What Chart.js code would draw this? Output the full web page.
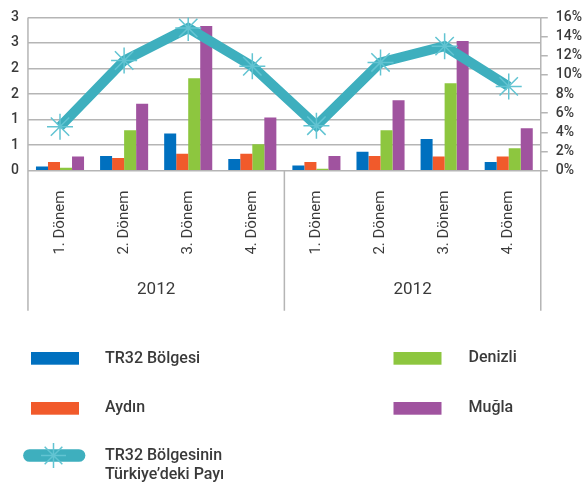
<!DOCTYPE html>
<html>
<head>
<meta charset="utf-8">
<script src="https://cdn.jsdelivr.net/npm/chart.js@4"></script>
<style>
  html, body { margin:0; padding:0; background:#fff; }
  #wrap { position:relative; width:585px; height:489px; }
</style>
</head>
<body>
<div id="wrap"><canvas id="chart" width="585" height="489"></canvas></div>
<script>
// ========== Data ==========
const periods = ['1. Dönem','2. Dönem','3. Dönem','4. Dönem','1. Dönem','2. Dönem','3. Dönem','4. Dönem'];
const years = ['2012','2012'];
const tr32 = [0.08, 0.29, 0.73, 0.23, 0.10, 0.37, 0.62, 0.17];
const aydin = [0.17, 0.25, 0.33, 0.33, 0.17, 0.29, 0.28, 0.28];
const denizli = [0.06, 0.79, 1.81, 0.52, 0.04, 0.79, 1.71, 0.44];
const mugla = [0.28, 1.31, 2.83, 1.04, 0.29, 1.38, 2.54, 0.83];
const share = [4.6, 11.5, 14.9, 10.9, 4.7, 11.3, 13.0, 8.8];   // % of Turkey

const GRID = '#b5b5b5';
const TEXT = '#3a3a3a';

// vertical frame lines running down through the category axes
const frameLines = {
  id:'frameLines',
  afterDraw(chart){
    const {ctx, chartArea} = chart;
    const x2 = chart.scales.x2;
    const end = chartArea.bottom + 140;
    const mid = (x2.getPixelForTick(0) + x2.getPixelForTick(1)) / 2;
    ctx.save();
    ctx.strokeStyle = GRID; ctx.lineWidth = 1.5;
    ctx.beginPath();
    ctx.moveTo(chartArea.left, chartArea.top); ctx.lineTo(chartArea.left, end);
    ctx.moveTo(chartArea.right, chartArea.top); ctx.lineTo(chartArea.right, end);
    ctx.moveTo(mid, chartArea.bottom); ctx.lineTo(mid, end);
    ctx.stroke();
    ctx.restore();
  }
};

// legend in two columns under the chart
const legendBlock = {
  id:'legendBlock',
  afterDraw(chart){
    const ctx = chart.ctx;
    const ds = chart.data.datasets;
    const slots = [
      {i:0, sx:31, sy:352, tx:105, ty:359},
      {i:1, sx:31, sy:402, tx:105, ty:408},
      {i:2, sx:393.5, sy:352, tx:468.5, ty:358},
      {i:3, sx:393.5, sy:402, tx:468.5, ty:408}
    ];
    ctx.save();
    ctx.font = '500 16px Roboto';
    ctx.textBaseline = 'middle';
    slots.forEach(s => {
      const d = ds[s.i];
      ctx.fillStyle = d.backgroundColor;
      ctx.fillRect(s.sx, s.sy, 48, 12.7);
      ctx.fillStyle = TEXT;
      ctx.fillText(d.label, s.tx, s.ty);
    });
    // line series
    const line = ds[4];
    ctx.strokeStyle = line.borderColor;
    ctx.lineWidth = 12.7; ctx.lineCap = 'round';
    ctx.beginPath(); ctx.moveTo(29.5, 455.5); ctx.lineTo(79, 455.5); ctx.stroke();
    ctx.strokeStyle = line.pointBorderColor;
    ctx.fillStyle = line.pointBorderColor;
    ctx.lineWidth = 1.5; ctx.lineCap = 'butt';
    Chart.helpers.drawPoint(ctx, {pointStyle:'star', radius:12.5, borderWidth:1.5, rotation:0}, 53.5, 455.5);
    ctx.fillStyle = TEXT;
    line.label.forEach((t, k) => ctx.fillText(t, 105, 456 + k * 19));
    ctx.restore();
  }
};

new Chart(document.getElementById('chart'), {
  data:{
    labels: periods,
    datasets:[
      { type:'bar', label:'TR32 Bölgesi', data:tr32, backgroundColor:'#0070bf', order:1, yAxisID:'y' },
      { type:'bar', label:'Aydın', data:aydin, backgroundColor:'#f15a2b', order:1, yAxisID:'y' },
      { type:'bar', label:'Denizli', data:denizli, backgroundColor:'#8dc63f', order:1, yAxisID:'y' },
      { type:'bar', label:'Muğla', data:mugla, backgroundColor:'#a0539f', order:1, yAxisID:'y' },
      { type:'line', label:['TR32 Bölgesinin','Türkiye\u2019deki Payı'], data:share, yAxisID:'y1', order:0,
        borderColor:'#3eafbe', borderWidth:10, borderJoinStyle:'miter', tension:0,
        pointStyle:'star', pointRadius:13, pointBorderColor:'#62c4d2', pointBorderWidth:1.5,
        pointBackgroundColor:'#62c4d2' }
    ]
  },
  options:{
    responsive:false,
    animation:false,
    events:[],
    datasets:{ bar:{ categoryPercentage:0.75, barPercentage:1 } },
    layout:{ padding:{ left:2, right:-5, top:-6, bottom:184 } },
    plugins:{ legend:{ display:false }, tooltip:{ enabled:false } },
    scales:{
      x:{
        position:'bottom',
        grid:{ display:false },
        border:{ display:false },
        ticks:{ minRotation:90, maxRotation:90, autoSkip:false, padding:12,
          color:TEXT, font:{ family:'Roboto', size:15 } }
      },
      x2:{
        type:'category',
        labels: years,
        position:'bottom',
        offset:true,
        grid:{ display:false },
        border:{ display:false },
        ticks:{ padding:5, color:TEXT, font:{ family:'Roboto', size:17 } }
      },
      y:{
        position:'left',
        min:0, max:3,
        grid:{ color:GRID, lineWidth:1.5, drawTicks:false },
        border:{ display:false },
        ticks:{ stepSize:0.5, autoSkip:false, padding:9, color:TEXT, font:{ family:'Roboto', size:14, weight:'500' },
          callback:v => Math.round(v) }
      },
      y1:{
        position:'right',
        min:0, max:16,
        grid:{ drawOnChartArea:false, color:GRID, lineWidth:1.5, tickLength:7 },
        border:{ display:false },
        ticks:{ stepSize:2, autoSkip:false, padding:8, color:TEXT, font:{ family:'Roboto', size:14, weight:'500' },
          callback:v => v + '%' }
      }
    }
  },
  plugins:[frameLines, legendBlock]
});
</script>
</body>
</html>
